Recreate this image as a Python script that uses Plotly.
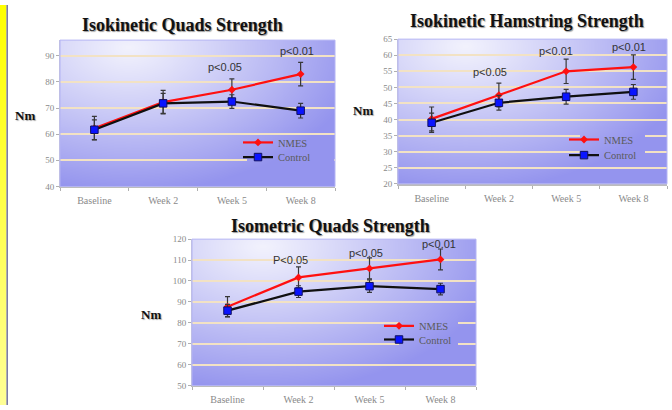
import base64, struct, zlib
import numpy as np
import plotly.graph_objects as go

# ---------------- data ----------------
categories = ["Baseline", "Week 2", "Week 5", "Week 8"]

quads_kin_nmes = [62.3, 72.3, 77.0, 83.0]
quads_kin_nmes_err = [4.5, 4.5, 4.2, 4.5]
quads_kin_ctrl = [61.7, 71.8, 72.5, 69.0]
quads_kin_ctrl_err = [3.8, 3.8, 2.6, 2.8]

ham_kin_nmes = [40.2, 47.6, 55.0, 56.3]
ham_kin_nmes_err = [3.7, 3.7, 3.8, 3.8]
ham_kin_ctrl = [39.0, 45.2, 47.1, 48.6]
ham_kin_ctrl_err = [3.0, 2.3, 2.3, 2.3]

quads_met_nmes = [87.7, 101.7, 106.0, 110.3]
quads_met_nmes_err = [4.8, 5.0, 5.0, 5.0]
quads_met_ctrl = [85.8, 94.9, 97.5, 96.1]
quads_met_ctrl_err = [3.0, 2.8, 3.0, 2.8]

titles = ["Isokinetic Quads Strength", "Isokinetic Hamstring Strength", "Isometric Quads Strength"]
series_names = ["NMES", "Control"]
y_title = "Nm"
pvals1 = ["p<0.05", "p<0.01"]
pvals2 = ["p<0.05", "p<0.01", "p<0.01"]
pvals3 = ["P<0.05", "p<0.05", "p<0.01"]

# ---------------- helpers ----------------
W, H = 672, 410
LIGHT = np.array([242, 242, 253])
DARK = np.array([148, 148, 238])


def grad_t(u, v):
    d = np.sqrt(((u - 0.25) / 0.85) ** 2 + ((v - 0.05) / 1.0) ** 2)
    return np.clip(d, 0, 1) ** 1.1


def png_uri(arr):
    arr = np.ascontiguousarray(arr, dtype=np.uint8)
    h, w, _ = arr.shape
    raw = b"".join(b"\x00" + arr[r].tobytes() for r in range(h))

    def chunk(t, d):
        c = struct.pack(">I", len(d)) + t + d
        return c + struct.pack(">I", zlib.crc32(t + d) & 0xFFFFFFFF)

    png = (b"\x89PNG\r\n\x1a\n"
           + chunk(b"IHDR", struct.pack(">IIBBBBB", w, h, 8, 2, 0, 0, 0))
           + chunk(b"IDAT", zlib.compress(raw))
           + chunk(b"IEND", b""))
    return "data:image/png;base64," + base64.b64encode(png).decode()


def gradient(u0=0.0, u1=1.0, v0=0.0, v1=1.0, w=280, h=150):
    u = np.linspace(u0, u1, w)[None, :]
    v = np.linspace(v0, v1, h)[:, None]
    t = grad_t(u, v)
    img = LIGHT[None, None, :] + (DARK - LIGHT)[None, None, :] * t[:, :, None]
    return img


def yellow(h=100):
    v = np.linspace(0, 1, h)[:, None]
    top = np.array([255, 255, 0])
    bot = np.array([255, 255, 150])
    img = top + (bot - top) * v
    img = np.repeat(img[:, None, :], 4, axis=1)
    return img


grad_uri = png_uri(gradient())

fig = go.Figure()

panels = [
    dict(n="", nm=quads_kin_nmes, nme=quads_kin_nmes_err, c=quads_kin_ctrl, ce=quads_kin_ctrl_err,
         px=(60, 335), py=(36, 186), yr=[40, 96], dt=10, t0=40,
         legs=("legend", "legend4"), legxy=(277, 142, 157), box=(247, 334, 134, 166)),
    dict(n="2", nm=ham_kin_nmes, nme=ham_kin_nmes_err, c=ham_kin_ctrl, ce=ham_kin_ctrl_err,
         px=(398, 667), py=(35, 183.3), yr=[20, 65], dt=5, t0=20,
         legs=("legend2", "legend5"), legxy=(603, 139, 155), box=(580, 645, 127, 162)),
    dict(n="3", nm=quads_met_nmes, nme=quads_met_nmes_err, c=quads_met_ctrl, ce=quads_met_ctrl_err,
         px=(192, 476), py=(240, 390), yr=[50, 120], dt=10, t0=50,
         legs=("legend3", "legend6"), legxy=(418, 330, 344), box=(399, 458, 317, 356)),
]

serif = "Liberation Serif, Times New Roman, serif"
sans = "Liberation Sans, Arial, sans-serif"

layout = dict(width=W, height=H, margin=dict(l=0, r=0, t=0, b=0),
              paper_bgcolor="white", plot_bgcolor="rgba(0,0,0,0)", showlegend=True)
images = []
shapes = []
leg_common = dict(font=dict(family=serif, size=10.5, color="#5a5a5a"),
                  bgcolor="rgba(0,0,0,0)", borderwidth=0, xanchor="left", yanchor="top",
                  itemwidth=30)

for p in panels:
    n = p["n"]
    xa, ya = "x" + n, "y" + n
    fig.add_trace(go.Scatter(
        x=categories, y=p["nm"], name=series_names[0], xaxis=xa, yaxis=ya, legend=p["legs"][0],
        mode="lines+markers", line=dict(color="#ff1010", width=2.2),
        marker=dict(symbol="diamond", size=6, color="#ff1010"),
        error_y=dict(type="data", array=p["nme"], color="#383838", thickness=1.2, width=2.5)))
    fig.add_trace(go.Scatter(
        x=categories, y=p["c"], name=series_names[1], xaxis=xa, yaxis=ya, legend=p["legs"][1],
        mode="lines+markers", line=dict(color="#101010", width=2.2),
        marker=dict(symbol="square", size=7.5, color="#0a14ff", line=dict(color="#101060", width=1)),
        error_y=dict(type="data", array=p["ce"], color="#383838", thickness=1.2, width=2.5)))

    x0, x1 = p["px"]
    y0, y1 = p["py"]
    dom_x = [x0 / W, x1 / W]
    dom_y = [1 - y1 / H, 1 - y0 / H]
    layout["xaxis" + n] = dict(
        domain=dom_x, anchor=ya, type="category", range=[-0.5, 3.5],
        tickson="boundaries", ticks="outside", ticklen=3, tickcolor="#b0b0b0",
        showline=True, linecolor="#bcbcbc", linewidth=2, showgrid=False,
        tickfont=dict(family=serif, size=10, color="#8a8a8a"), ticklabelstandoff=4)
    layout["yaxis" + n] = dict(
        domain=dom_y, anchor=xa, range=p["yr"], tick0=p["t0"], dtick=p["dt"],
        ticks="outside", ticklen=3, tickcolor="#b0b0b0",
        showline=True, linecolor="#c8c8d8", linewidth=1,
        showgrid=True, gridcolor="#f2e2c4", gridwidth=1.6, zeroline=False,
        tickfont=dict(family=serif, size=9, color="#8a8a8a"))
    images.append(dict(source=grad_uri, xref="paper", yref="paper", x=dom_x[0], y=dom_y[1],
                       sizex=dom_x[1] - dom_x[0], sizey=dom_y[1] - dom_y[0],
                       sizing="stretch", layer="below"))
    shapes.append(dict(type="rect", xref="paper", yref="paper", x0=dom_x[0], x1=dom_x[1],
                       y0=dom_y[0], y1=dom_y[1], line=dict(color="#b4b4f4", width=1),
                       fillcolor="rgba(0,0,0,0)", layer="above"))
    # legend background patch: same gradient, cropped, hides the gridlines behind the legend
    bx0, bx1, by0, by1 = p["box"]
    u0, u1 = (bx0 - x0) / (x1 - x0), (bx1 - x0) / (x1 - x0)
    v0, v1 = (by0 - y0) / (y1 - y0), (by1 - y0) / (y1 - y0)
    patch = gradient(u0, u1, v0, v1, w=int(bx1 - bx0), h=int(by1 - by0))
    images.append(dict(source=png_uri(patch), xref="paper", yref="paper", x=bx0 / W, y=1 - by0 / H,
                       sizex=(bx1 - bx0) / W, sizey=(by1 - by0) / H,
                       sizing="stretch", layer="above"))
    tx, ty1, ty2 = p["legxy"]
    layout[p["legs"][0]] = dict(x=(tx - 39) / W, y=1 - (ty1 - 16) / H, **leg_common)
    layout[p["legs"][1]] = dict(x=(tx - 39) / W, y=1 - (ty2 - 16) / H, **leg_common)

# yellow strip at the left
images.append(dict(source=png_uri(yellow()), xref="paper", yref="paper", x=0, y=1,
                   sizex=6.5 / W, sizey=1, sizing="stretch", layer="below"))
shapes.append(dict(type="line", xref="paper", yref="paper", x0=7.2 / W, x1=7.2 / W, y0=0, y1=1,
                   line=dict(color="#7c7ca4", width=1.6)))

layout["images"] = images
layout["shapes"] = shapes

title_font = dict(family=serif, size=18, color="#111111", shadow="1px 1px 1px #999999")
nm_font = dict(family=serif, size=13, color="#111111", shadow="1px 1px 1px #aaaaaa")
p_font = dict(family=sans, size=11, color="#333333")

ann = []
for t, (cx, cy) in zip(titles, [(182, 21), (527, 16), (330, 227)]):
    ann.append(dict(text="<b>" + t + "</b>", x=cx / W, y=1 - cy / H, xref="paper", yref="paper",
                    showarrow=False, font=title_font, xanchor="center", yanchor="middle"))
for (cx, cy) in [(25, 113), (363, 108), (151, 317)]:
    ann.append(dict(text="<b>" + y_title + "</b>", x=cx / W, y=1 - cy / H, xref="paper", yref="paper",
                    showarrow=False, font=nm_font, xanchor="center", yanchor="middle"))

# significance labels
for txt, cat, yv, dx in zip(pvals1, ["Week 5", "Week 8"], [85.9, 91.9], [-7, -4]):
    ann.append(dict(text=txt, x=cat, y=yv, xref="x", yref="y", showarrow=False, font=p_font, xshift=dx))
for txt, cat, yv, dx in zip(pvals2, ["Week 2", "Week 5", "Week 8"], [54.9, 61.3, 62.5], [-9, -10, -4]):
    ann.append(dict(text=txt, x=cat, y=yv, xref="x2", yref="y2", showarrow=False, font=p_font, xshift=dx))
for txt, cat, yv, dx in zip(pvals3, ["Week 2", "Week 5", "Week 8"], [110.2, 113.5, 117.7], [-8, -4, -2]):
    ann.append(dict(text=txt, x=cat, y=yv, xref="x3", yref="y3", showarrow=False, font=p_font, xshift=dx))
layout["annotations"] = ann

fig.update_layout(**layout)
fig.write_html("out.html", config={"displayModeBar": False},
               post_script="document.body.style.margin='0';document.body.style.overflow='hidden';")
